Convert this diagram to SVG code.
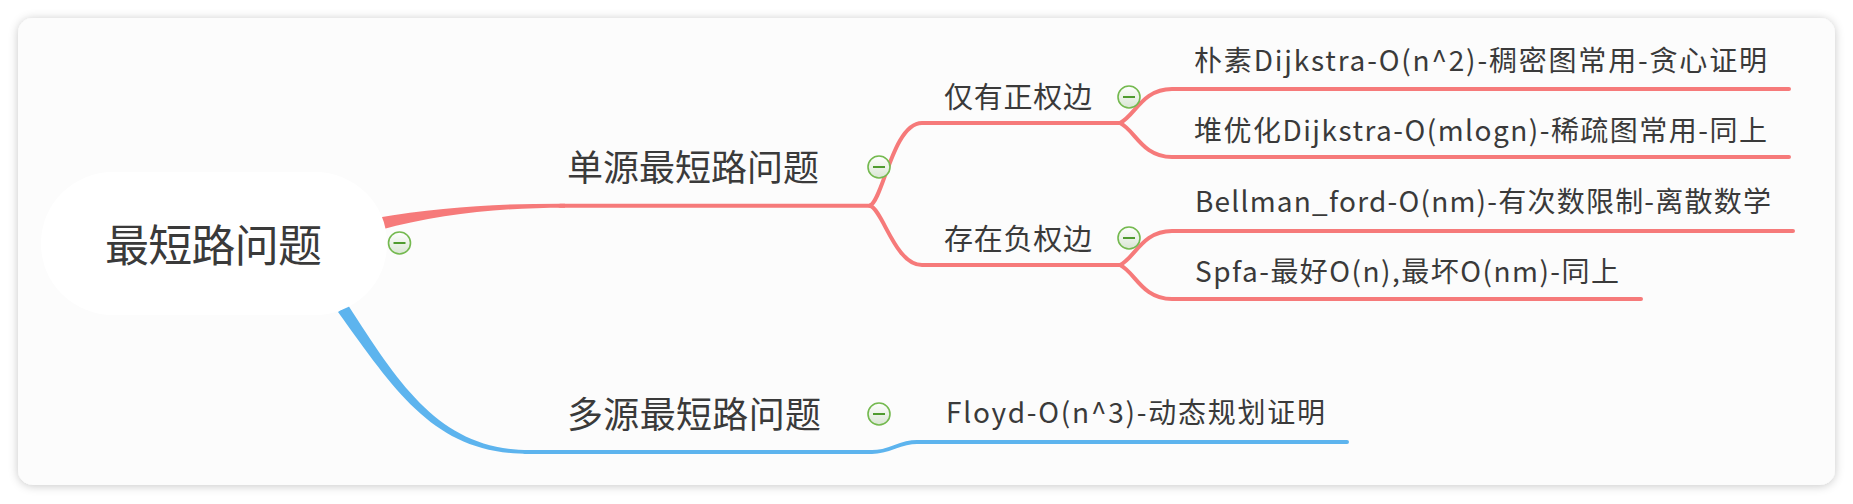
<svg xmlns="http://www.w3.org/2000/svg" width="1853" height="504" viewBox="0 0 1853 504">
  <defs>
    <filter id="shadow" x="-5%" y="-10%" width="110%" height="120%">
      <feDropShadow dx="0" dy="1" stdDeviation="5" flood-color="#000" flood-opacity="0.22"/>
    </filter>
    <linearGradient id="iconFill" x1="0" y1="0" x2="0" y2="1">
      <stop offset="0" stop-color="#ffffff"/>
      <stop offset="1" stop-color="#d9e6d3"/>
    </linearGradient>
    <g id="collapse">
      <circle cx="0" cy="0" r="11" fill="url(#iconFill)" stroke="#74b94f" stroke-width="1.6"/>
      <line x1="-6" y1="0" x2="6" y2="0" stroke="#4f9b2f" stroke-width="2"/>
    </g>
  </defs>
  <style>
    text { font-family: "Noto Sans CJK SC", "Noto Sans", sans-serif; fill: #3a3a3a; }
    .root { font-size: 44px; }
    .l1 { font-size: 36px; }
    .l2 { font-size: 29px; }
    .l3 { font-size: 28px; }
    .red { fill: none; stroke: #f67a7a; stroke-width: 4; stroke-linecap: round; stroke-linejoin: round; }
    .blue { fill: none; stroke: #5db4ee; stroke-width: 4; stroke-linecap: round; stroke-linejoin: round; }
  </style>

  <rect width="1853" height="504" fill="#ffffff"/>
  <rect x="18" y="18" width="1817" height="467" rx="15" ry="15" fill="#fcfcfc" filter="url(#shadow)"/>

  <g id="connectors">
    <!-- tapered root branches -->
    <path d="M376,218 C440,207 500,203.5 565,203.7 L565,207.7 C500,207.7 440,214 380,230 Z" fill="#f67a7a"/>
    <path d="M348,305 C402,389 442,450 530,450 L530,454 C437,454 399,397 338,312 Z" fill="#5db4ee"/>
    <!-- level 1 -->
    <path class="red" d="M560,205.7 H870"/>
    <path class="blue" d="M525,452 H872 C892,452 897,442 917,442 H1347"/>
    <!-- level 2 fork -->
    <path class="red" d="M870,205.7 C883,200 893,123 922,123 H1120"/>
    <path class="red" d="M870,205.7 C883,210 895,265 922,265 H1120"/>
    <!-- level 3 forks -->
    <path class="red" d="M1120,123 C1135,116 1142,89 1172,89 H1789"/>
    <path class="red" d="M1120,123 C1135,130 1142,157 1172,157 H1789"/>
    <path class="red" d="M1120,265 C1135,258 1142,231 1172,231 H1793"/>
    <path class="red" d="M1120,265 C1135,272 1142,299 1172,299 H1641"/>
  </g>

  <g id="root">
    <rect x="41" y="172" width="346" height="143" rx="72" ry="71" fill="#ffffff"/>
    <text class="root" x="105" y="262" textLength="217" lengthAdjust="spacing">最短路问题</text>
    <use href="#collapse" x="399.5" y="243"/>
  </g>

  <g id="single-source">
    <text class="l1" x="567" y="181" textLength="252" lengthAdjust="spacing">单源最短路问题</text>
    <use href="#collapse" x="879" y="167"/>
  </g>

  <g id="positive-only">
    <text class="l2" x="944" y="108" textLength="148" lengthAdjust="spacing">仅有正权边</text>
    <use href="#collapse" x="1129" y="97"/>
  </g>

  <g id="negative-exists">
    <text class="l2" x="944" y="250" textLength="148" lengthAdjust="spacing">存在负权边</text>
    <use href="#collapse" x="1129" y="238"/>
  </g>

  <g id="dijkstra-naive">
    <text class="l3" x="1194" y="71" textLength="573" lengthAdjust="spacing">朴素Dijkstra-O(n^2)-稠密图常用-贪心证明</text>
  </g>

  <g id="dijkstra-heap">
    <text class="l3" x="1194" y="141" textLength="573" lengthAdjust="spacing">堆优化Dijkstra-O(mlogn)-稀疏图常用-同上</text>
  </g>

  <g id="bellman-ford">
    <text class="l3" x="1195" y="212" textLength="576" lengthAdjust="spacing">Bellman_ford-O(nm)-有次数限制-离散数学</text>
  </g>

  <g id="spfa">
    <text class="l3" x="1195" y="282" textLength="424" lengthAdjust="spacing">Spfa-最好O(n),最坏O(nm)-同上</text>
  </g>

  <g id="multi-source">
    <text class="l1" x="567" y="428" textLength="254" lengthAdjust="spacing">多源最短路问题</text>
    <use href="#collapse" x="879" y="414"/>
  </g>

  <g id="floyd">
    <text class="l3" x="946" y="423" textLength="379" lengthAdjust="spacing">Floyd-O(n^3)-动态规划证明</text>
  </g>
</svg>
